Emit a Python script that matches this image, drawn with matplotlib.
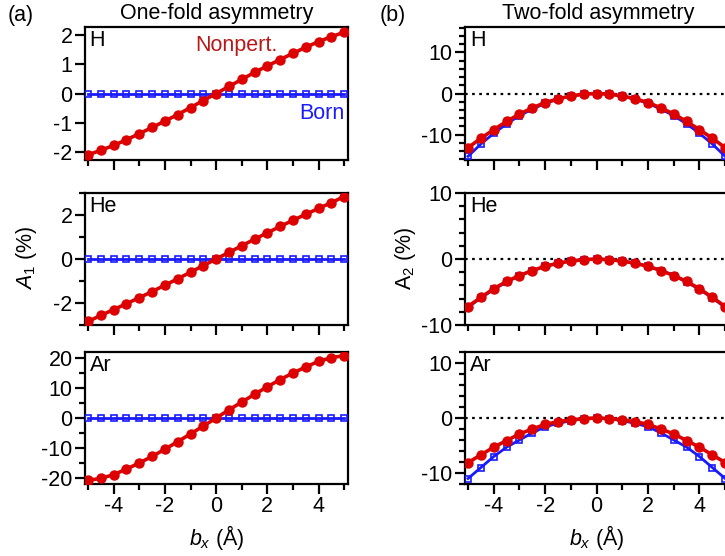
import matplotlib
matplotlib.use("Agg")
import matplotlib.pyplot as plt
from matplotlib.ticker import MultipleLocator
import numpy as np

plt.rcParams['font.family'] = ['Liberation Sans', 'DejaVu Sans']
plt.rcParams['mathtext.fontset'] = 'custom'
plt.rcParams['mathtext.rm'] = 'Liberation Sans'
plt.rcParams['mathtext.it'] = 'Liberation Sans:italic'

# impact parameter b_x (Angstrom)
bx = [-5.0, -4.5, -4.0, -3.5, -3.0, -2.5, -2.0, -1.5, -1.0, -0.5, 0.0,
      0.5, 1.0, 1.5, 2.0, 2.5, 3.0, 3.5, 4.0, 4.5, 5.0]

# One-fold asymmetry A1 (%)
h_a1_nonpert = [-2.09, -1.94, -1.77, -1.58, -1.37, -1.16, -0.94, -0.72, -0.48, -0.24, 0.0,
                0.24, 0.48, 0.72, 0.94, 1.16, 1.37, 1.58, 1.77, 1.94, 2.09]
h_a1_born = [0.0] * 21
he_a1_nonpert = [-2.84, -2.56, -2.30, -2.03, -1.76, -1.48, -1.19, -0.90, -0.60, -0.30, 0.0,
                 0.30, 0.60, 0.90, 1.19, 1.48, 1.76, 2.03, 2.30, 2.56, 2.84]
he_a1_born = [0.0] * 21
ar_a1_nonpert = [-20.8, -20.1, -18.9, -17.0, -15.0, -12.8, -10.4, -7.9, -5.3, -2.7, 0.0,
                 2.7, 5.3, 7.9, 10.4, 12.8, 15.0, 17.0, 18.9, 20.1, 20.8]
ar_a1_born = [0.0] * 21

# Two-fold asymmetry A2 (%)
h_a2_nonpert = [-13.2, -10.9, -8.8, -6.8, -5.0, -3.5, -2.2, -1.3, -0.6, -0.15, 0.0,
                -0.15, -0.6, -1.3, -2.2, -3.5, -5.0, -6.8, -8.8, -10.9, -13.2]
h_a2_born = [-15.3, -12.3, -9.7, -7.4, -5.4, -3.8, -2.4, -1.4, -0.6, -0.15, 0.0,
             -0.15, -0.6, -1.4, -2.4, -3.8, -5.4, -7.4, -9.7, -12.3, -15.3]
he_a2_nonpert = [-7.2, -5.8, -4.5, -3.4, -2.5, -1.75, -1.1, -0.65, -0.3, -0.1, 0.0,
                 -0.1, -0.3, -0.65, -1.1, -1.75, -2.5, -3.4, -4.5, -5.8, -7.2]
he_a2_born = [-7.3, -5.9, -4.6, -3.5, -2.5, -1.75, -1.1, -0.65, -0.3, -0.1, 0.0,
              -0.1, -0.3, -0.65, -1.1, -1.75, -2.5, -3.5, -4.6, -5.9, -7.3]
ar_a2_nonpert = [-8.1, -6.7, -5.3, -4.1, -2.9, -2.0, -1.15, -0.67, -0.35, -0.1, 0.0,
                 -0.1, -0.35, -0.67, -1.15, -2.0, -2.9, -4.1, -5.3, -6.7, -8.1]
ar_a2_born = [-11.0, -9.0, -7.0, -5.3, -4.0, -2.7, -1.6, -0.97, -0.5, -0.12, 0.0,
              -0.12, -0.5, -0.97, -1.6, -2.7, -4.0, -5.3, -7.0, -9.0, -11.0]

elements = ["H", "He", "Ar"]
left_data = [(h_a1_nonpert, h_a1_born), (he_a1_nonpert, he_a1_born), (ar_a1_nonpert, ar_a1_born)]
right_data = [(h_a2_nonpert, h_a2_born), (he_a2_nonpert, he_a2_born), (ar_a2_nonpert, ar_a2_born)]

left_ylims = [(-2.27, 2.27), (-3.0, 3.0), (-22.0, 22.0)]
left_major = [1, 2, 10]
left_minor = [None, 1, 5]
right_ylims = [(-16.2, 16.2), (-10.0, 10.0), (-12.0, 12.0)]

RED = '#dd0000'
BLUE = '#1a1aff'

W, H = 725, 556
fig = plt.figure(figsize=(W / 100, H / 100), dpi=100)

rows_px = [(27, 160), (193, 325), (352, 484)]
FS = 15.5


def style(ax, show_xlabels):
    for s in ax.spines.values():
        s.set_linewidth(1.6)
    ax.xaxis.set_major_locator(MultipleLocator(2))
    ax.xaxis.set_minor_locator(MultipleLocator(1))
    ax.tick_params(which='major', direction='out', length=7, width=1.6, labelsize=FS, pad=2,
                   top=False, right=False)
    ax.tick_params(which='minor', direction='out', length=4, width=1.6, top=False, right=False)
    if not show_xlabels:
        ax.tick_params(axis='x', labelbottom=False)
    ax.set_xticks([-4, -2, 0, 2, 4])
    ax.set_xticklabels(["-4", "-2", "0", "2", "4"])
    ax.set_xlim(-5.12, 5.15)


def draw(ax, nonp, born):
    ax.plot(bx, born, color=BLUE, lw=2.0, marker='s', ms=4.6, mfc='none',
            mec=BLUE, mew=1.2, zorder=3)
    ax.plot(bx, nonp, color=RED, lw=2.6, marker='o', ms=6.5, mfc=RED, mec=RED, zorder=4)


for i in range(3):
    top, bot = rows_px[i]
    # Left column
    axl = fig.add_axes([85 / W, 1 - bot / H, 263 / W, (bot - top) / H])
    nonp, born = left_data[i]
    draw(axl, nonp, born)
    style(axl, i == 2)
    axl.yaxis.set_major_locator(MultipleLocator(left_major[i]))
    if left_minor[i]:
        axl.yaxis.set_minor_locator(MultipleLocator(left_minor[i]))
    axl.set_ylim(*left_ylims[i])
    ticks = [t for t in axl.get_yticks() if left_ylims[i][0] <= t <= left_ylims[i][1]]
    axl.set_yticks(ticks)
    axl.set_yticklabels([f"{t:g}" for t in ticks])
    axl.set_ylim(*left_ylims[i])
    axl.text(0.018, 0.975, elements[i], transform=axl.transAxes, ha='left', va='top', fontsize=FS)

    # Right column
    axr = fig.add_axes([465 / W, 1 - bot / H, 264 / W, (bot - top) / H])
    nonp, born = right_data[i]
    axr.axhline(0, color='black', lw=1.6, ls=(0, (1.2, 2.0)), zorder=1)
    draw(axr, nonp, born)
    style(axr, i == 2)
    axr.yaxis.set_minor_locator(MultipleLocator(2))
    axr.set_yticks([-10, 0, 10])
    axr.set_yticklabels(["-10", "0", "10"])
    axr.set_ylim(*right_ylims[i])
    axr.text(0.018, 0.975, elements[i], transform=axr.transAxes, ha='left', va='top', fontsize=FS)

    if i == 0:
        axl.text(0.42, 0.86, "Nonpert.", transform=axl.transAxes, color='#b81818',
                 fontsize=FS, ha='left', va='center')
        axl.text(0.985, 0.35, "Born", transform=axl.transAxes, color=BLUE,
                 fontsize=FS, ha='right', va='center')

fig.text(8 / W, 1 - 16 / H, "(a)", fontsize=FS, ha='left', va='center')
fig.text(380 / W, 1 - 16 / H, "(b)", fontsize=FS, ha='left', va='center')
fig.text(217 / W, 1 - 14 / H, "One-fold asymmetry", fontsize=FS, ha='center', va='center')
fig.text(598 / W, 1 - 14 / H, "Two-fold asymmetry", fontsize=FS, ha='center', va='center')
fig.text(27 / W, 1 - 258 / H, r"$A_{\rm 1}$ (%)", fontsize=FS, rotation=90, ha='center', va='center')
fig.text(405 / W, 1 - 258 / H, r"A$_{\rm 2}$ (%)", fontsize=FS, rotation=90, ha='center', va='center')
fig.text(217 / W, 1 - 538 / H, r"$b_x$ (Å)", fontsize=FS, ha='center', va='center')
fig.text(597 / W, 1 - 538 / H, r"$b_x$ (Å)", fontsize=FS, ha='center', va='center')

fig.savefig("out.png", dpi=100)
